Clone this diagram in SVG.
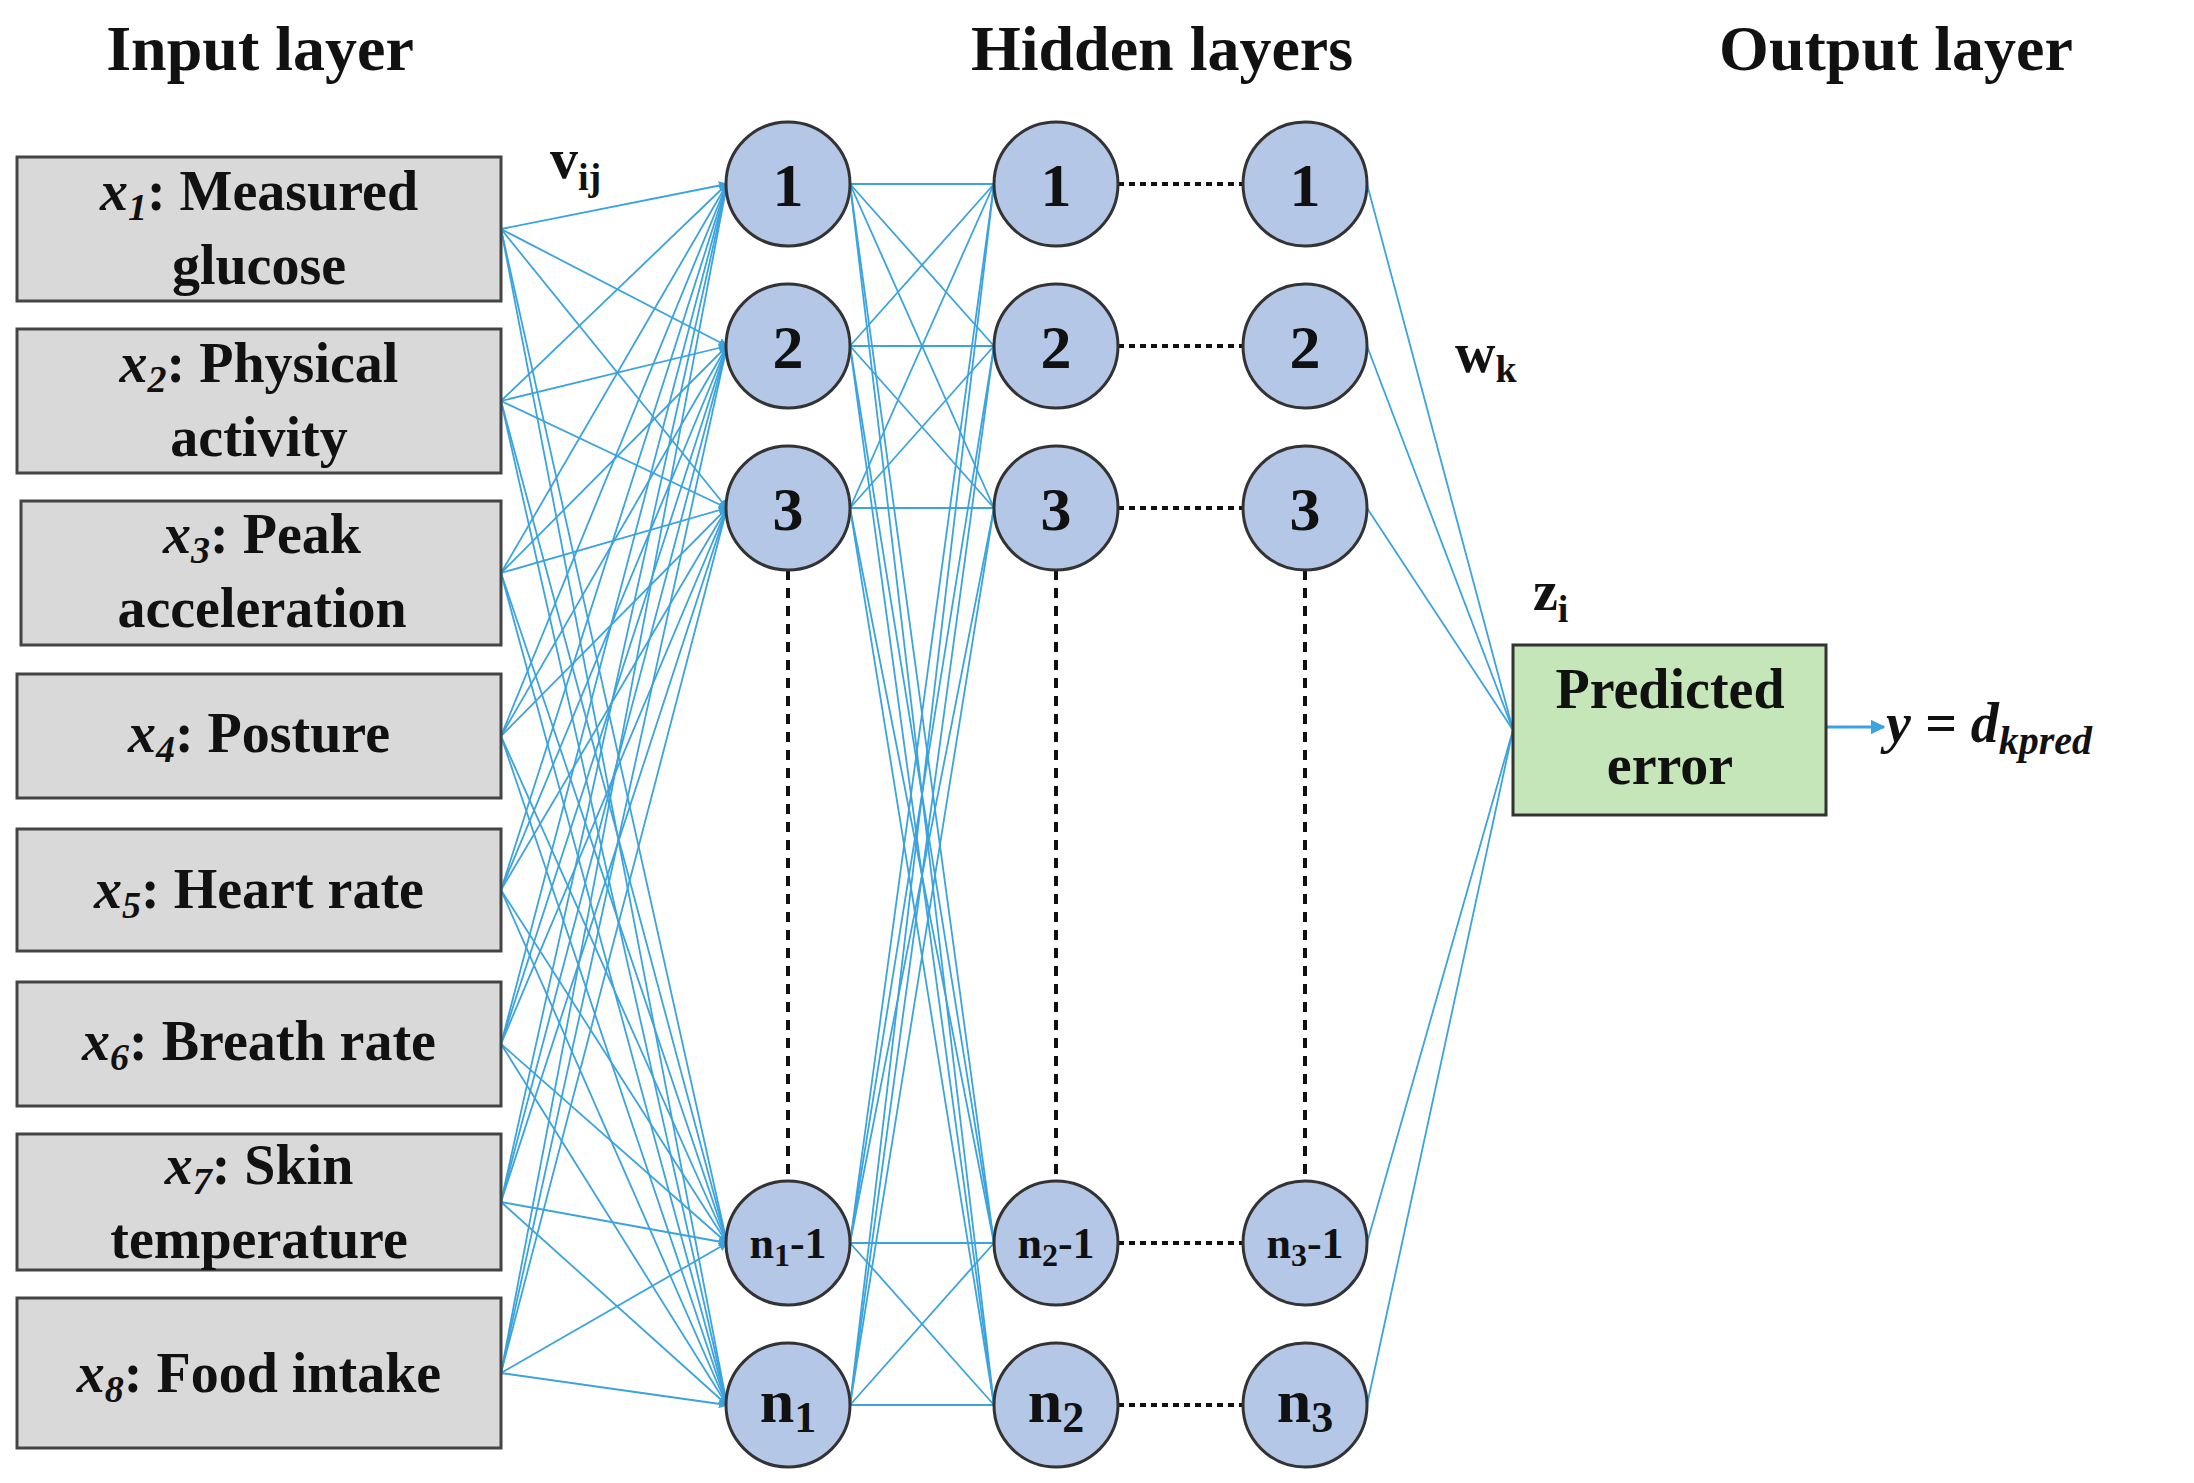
<svg xmlns="http://www.w3.org/2000/svg" width="2194" height="1483" viewBox="0 0 2194 1483">
<defs>
<marker id="ah" viewBox="0 0 10 10" refX="9" refY="5" markerWidth="5" markerHeight="5" orient="auto" markerUnits="strokeWidth"><path d="M0,0 L10,5 L0,10 z" fill="#3BA3DD"/></marker>
<style>
text{font-family:"Liberation Serif",serif;font-weight:bold;fill:#111}
.t{font-size:64px}
.b{font-size:56px}
.i{font-style:italic}
.inp{fill:#D9D9D9;stroke:#444;stroke-width:3}
.nd{fill:#B4C7E7;stroke:#333;stroke-width:3}
.nl{font-size:62px}
.ns{font-size:44px}
.c line{stroke:#3BA3DD;stroke-width:1.8}
.ci line{marker-end:url(#ah)}
.dv{stroke:#111;stroke-width:4;stroke-dasharray:10,8}
.dh{stroke:#111;stroke-width:4;stroke-dasharray:6,5}
</style>
</defs>
<rect width="2194" height="1483" fill="#fff"/>
<text class="t" x="260" y="70" text-anchor="middle">Input layer</text>
<text class="t" x="1162" y="70" text-anchor="middle">Hidden layers</text>
<text class="t" x="1896" y="70" text-anchor="middle">Output layer</text>

<g id="connectors">
<g class="c ci">
<line x1="501" y1="229" x2="727" y2="184"/><line x1="501" y1="229" x2="727" y2="346"/><line x1="501" y1="229" x2="727" y2="508"/><line x1="501" y1="229" x2="727" y2="1243"/><line x1="501" y1="229" x2="727" y2="1405"/>
<line x1="501" y1="401" x2="727" y2="184"/><line x1="501" y1="401" x2="727" y2="346"/><line x1="501" y1="401" x2="727" y2="508"/><line x1="501" y1="401" x2="727" y2="1243"/><line x1="501" y1="401" x2="727" y2="1405"/>
<line x1="501" y1="573" x2="727" y2="184"/><line x1="501" y1="573" x2="727" y2="346"/><line x1="501" y1="573" x2="727" y2="508"/><line x1="501" y1="573" x2="727" y2="1243"/><line x1="501" y1="573" x2="727" y2="1405"/>
<line x1="501" y1="736" x2="727" y2="184"/><line x1="501" y1="736" x2="727" y2="346"/><line x1="501" y1="736" x2="727" y2="508"/><line x1="501" y1="736" x2="727" y2="1243"/><line x1="501" y1="736" x2="727" y2="1405"/>
<line x1="501" y1="890" x2="727" y2="184"/><line x1="501" y1="890" x2="727" y2="346"/><line x1="501" y1="890" x2="727" y2="508"/><line x1="501" y1="890" x2="727" y2="1243"/><line x1="501" y1="890" x2="727" y2="1405"/>
<line x1="501" y1="1044" x2="727" y2="184"/><line x1="501" y1="1044" x2="727" y2="346"/><line x1="501" y1="1044" x2="727" y2="508"/><line x1="501" y1="1044" x2="727" y2="1243"/><line x1="501" y1="1044" x2="727" y2="1405"/>
<line x1="501" y1="1202" x2="727" y2="184"/><line x1="501" y1="1202" x2="727" y2="346"/><line x1="501" y1="1202" x2="727" y2="508"/><line x1="501" y1="1202" x2="727" y2="1243"/><line x1="501" y1="1202" x2="727" y2="1405"/>
<line x1="501" y1="1373" x2="727" y2="184"/><line x1="501" y1="1373" x2="727" y2="346"/><line x1="501" y1="1373" x2="727" y2="508"/><line x1="501" y1="1373" x2="727" y2="1243"/><line x1="501" y1="1373" x2="727" y2="1405"/>
</g>
<g class="c">
<line x1="850" y1="184" x2="994" y2="184"/><line x1="850" y1="184" x2="994" y2="346"/><line x1="850" y1="184" x2="994" y2="508"/><line x1="850" y1="184" x2="994" y2="1243"/><line x1="850" y1="184" x2="994" y2="1405"/>
<line x1="850" y1="346" x2="994" y2="184"/><line x1="850" y1="346" x2="994" y2="346"/><line x1="850" y1="346" x2="994" y2="508"/><line x1="850" y1="346" x2="994" y2="1243"/><line x1="850" y1="346" x2="994" y2="1405"/>
<line x1="850" y1="508" x2="994" y2="184"/><line x1="850" y1="508" x2="994" y2="346"/><line x1="850" y1="508" x2="994" y2="508"/><line x1="850" y1="508" x2="994" y2="1243"/><line x1="850" y1="508" x2="994" y2="1405"/>
<line x1="850" y1="1243" x2="994" y2="184"/><line x1="850" y1="1243" x2="994" y2="346"/><line x1="850" y1="1243" x2="994" y2="508"/><line x1="850" y1="1243" x2="994" y2="1243"/><line x1="850" y1="1243" x2="994" y2="1405"/>
<line x1="850" y1="1405" x2="994" y2="184"/><line x1="850" y1="1405" x2="994" y2="346"/><line x1="850" y1="1405" x2="994" y2="508"/><line x1="850" y1="1405" x2="994" y2="1243"/><line x1="850" y1="1405" x2="994" y2="1405"/>
<line x1="1367" y1="184" x2="1513" y2="730"/><line x1="1367" y1="346" x2="1513" y2="730"/><line x1="1367" y1="508" x2="1513" y2="730"/><line x1="1367" y1="1243" x2="1513" y2="730"/><line x1="1367" y1="1405" x2="1513" y2="730"/>
</g>
<line x1="1826" y1="727" x2="1884" y2="727" stroke="#3BA3DD" stroke-width="3" marker-end="url(#ah)"/>
<line class="dv" x1="788" y1="570" x2="788" y2="1181"/>
<line class="dv" x1="1056" y1="570" x2="1056" y2="1181"/>
<line class="dv" x1="1305" y1="570" x2="1305" y2="1181"/>
<line class="dh" x1="1118" y1="184" x2="1243" y2="184"/>
<line class="dh" x1="1118" y1="346" x2="1243" y2="346"/>
<line class="dh" x1="1118" y1="508" x2="1243" y2="508"/>
<line class="dh" x1="1118" y1="1243" x2="1243" y2="1243"/>
<line class="dh" x1="1118" y1="1405" x2="1243" y2="1405"/>
</g>

<g id="x1"><rect class="inp" x="17" y="157" width="484" height="144"/><text class="b" x="259" y="210" text-anchor="middle"><tspan class="i">x</tspan><tspan class="i" font-size="38" dy="10">1</tspan><tspan dy="-10">: Measured</tspan></text><text class="b" x="259" y="284" text-anchor="middle">glucose</text></g>
<g id="x2"><rect class="inp" x="17" y="329" width="484" height="144"/><text class="b" x="259" y="382" text-anchor="middle"><tspan class="i">x</tspan><tspan class="i" font-size="38" dy="10">2</tspan><tspan dy="-10">: Physical</tspan></text><text class="b" x="259" y="456" text-anchor="middle">activity</text></g>
<g id="x3"><rect class="inp" x="21" y="501" width="480" height="144"/><text class="b" x="262" y="553" text-anchor="middle"><tspan class="i">x</tspan><tspan class="i" font-size="38" dy="10">3</tspan><tspan dy="-10">: Peak</tspan></text><text class="b" x="262" y="627" text-anchor="middle">acceleration</text></g>
<g id="x4"><rect class="inp" x="17" y="674" width="484" height="124"/><text class="b" x="259" y="752" text-anchor="middle"><tspan class="i">x</tspan><tspan class="i" font-size="38" dy="10">4</tspan><tspan dy="-10">: Posture</tspan></text></g>
<g id="x5"><rect class="inp" x="17" y="829" width="484" height="122"/><text class="b" x="259" y="908" text-anchor="middle"><tspan class="i">x</tspan><tspan class="i" font-size="38" dy="10">5</tspan><tspan dy="-10">: Heart rate</tspan></text></g>
<g id="x6"><rect class="inp" x="17" y="982" width="484" height="124"/><text class="b" x="259" y="1060" text-anchor="middle"><tspan class="i">x</tspan><tspan class="i" font-size="38" dy="10">6</tspan><tspan dy="-10">: Breath rate</tspan></text></g>
<g id="x7"><rect class="inp" x="17" y="1134" width="484" height="136"/><text class="b" x="259" y="1184" text-anchor="middle"><tspan class="i">x</tspan><tspan class="i" font-size="38" dy="10">7</tspan><tspan dy="-10">: Skin</tspan></text><text class="b" x="259" y="1258" text-anchor="middle">temperature</text></g>
<g id="x8"><rect class="inp" x="17" y="1298" width="484" height="150"/><text class="b" x="259" y="1392" text-anchor="middle"><tspan class="i">x</tspan><tspan class="i" font-size="38" dy="10">8</tspan><tspan dy="-10">: Food intake</tspan></text></g>

<g id="h1-1"><circle class="nd" cx="788" cy="184" r="62"/><text class="nl" x="788" y="206" text-anchor="middle">1</text></g>
<g id="h1-2"><circle class="nd" cx="788" cy="346" r="62"/><text class="nl" x="788" y="368" text-anchor="middle">2</text></g>
<g id="h1-3"><circle class="nd" cx="788" cy="508" r="62"/><text class="nl" x="788" y="530" text-anchor="middle">3</text></g>
<g id="h1-n1"><circle class="nd" cx="788" cy="1243" r="62"/><text class="ns" x="788" y="1258" text-anchor="middle">n<tspan font-size="32" dy="8">1</tspan><tspan dy="-8">-1</tspan></text></g>
<g id="h1-n"><circle class="nd" cx="788" cy="1405" r="62"/><text class="nl" x="788" y="1422" text-anchor="middle">n<tspan font-size="44" dy="10">1</tspan></text></g>

<g id="h2-1"><circle class="nd" cx="1056" cy="184" r="62"/><text class="nl" x="1056" y="206" text-anchor="middle">1</text></g>
<g id="h2-2"><circle class="nd" cx="1056" cy="346" r="62"/><text class="nl" x="1056" y="368" text-anchor="middle">2</text></g>
<g id="h2-3"><circle class="nd" cx="1056" cy="508" r="62"/><text class="nl" x="1056" y="530" text-anchor="middle">3</text></g>
<g id="h2-n1"><circle class="nd" cx="1056" cy="1243" r="62"/><text class="ns" x="1056" y="1258" text-anchor="middle">n<tspan font-size="32" dy="8">2</tspan><tspan dy="-8">-1</tspan></text></g>
<g id="h2-n"><circle class="nd" cx="1056" cy="1405" r="62"/><text class="nl" x="1056" y="1422" text-anchor="middle">n<tspan font-size="44" dy="10">2</tspan></text></g>

<g id="h3-1"><circle class="nd" cx="1305" cy="184" r="62"/><text class="nl" x="1305" y="206" text-anchor="middle">1</text></g>
<g id="h3-2"><circle class="nd" cx="1305" cy="346" r="62"/><text class="nl" x="1305" y="368" text-anchor="middle">2</text></g>
<g id="h3-3"><circle class="nd" cx="1305" cy="508" r="62"/><text class="nl" x="1305" y="530" text-anchor="middle">3</text></g>
<g id="h3-n1"><circle class="nd" cx="1305" cy="1243" r="62"/><text class="ns" x="1305" y="1258" text-anchor="middle">n<tspan font-size="32" dy="8">3</tspan><tspan dy="-8">-1</tspan></text></g>
<g id="h3-n"><circle class="nd" cx="1305" cy="1405" r="62"/><text class="nl" x="1305" y="1422" text-anchor="middle">n<tspan font-size="44" dy="10">3</tspan></text></g>

<g id="output"><rect x="1513" y="645" width="313" height="170" fill="#C5E6B8" stroke="#333" stroke-width="3"/><text class="b" x="1670" y="708" text-anchor="middle">Predicted</text><text class="b" x="1670" y="784" text-anchor="middle">error</text></g>

<text class="b" x="550" y="178">v<tspan font-size="38" dy="12">ij</tspan></text>
<text class="b" x="1455" y="372">w<tspan font-size="38" dy="10">k</tspan></text>
<text class="b" x="1533" y="610">z<tspan font-size="38" dy="12">i</tspan></text>
<text class="b i" x="1886" y="742">y = d<tspan font-size="40" dy="12">kpred</tspan></text>
</svg>
